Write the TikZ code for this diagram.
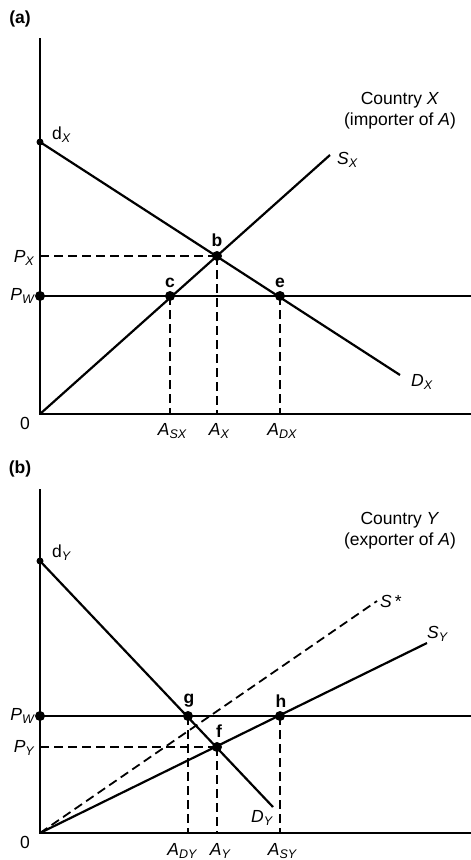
\documentclass[tikz,border=0pt]{standalone}
\usepackage{fontspec}
\setmainfont{Liberation Sans}
\usetikzlibrary{positioning}

\newcommand{\sublab}[2]{#1\raisebox{-0.35ex}{\fontsize{12.5}{12.5}\selectfont\itshape #2}}
\tikzset{
  curve/.style={line width=2.2pt},
  guide/.style={line width=1.8pt, dash pattern=on 9pt off 5pt},
  bigdot/.style={circle,fill=black,inner sep=0pt,minimum size=10pt},
  smalldot/.style={circle,fill=black,inner sep=0pt,minimum size=7pt},
  lab/.style={font=\fontsize{17.5}{21}\selectfont},
  ptlab/.style={font=\fontsize{17.5}{21}\selectfont\bfseries},
}

\begin{document}
\begin{tikzpicture}[x=1pt,y=-1pt]
\useasboundingbox[fill=white] (0,0) rectangle (471,860);

% panel (a): country X
\node[ptlab] (tagA) at (20,19) {(a)};
\coordinate (Oa) at (40,414);
\coordinate (topA) at (40,38);
\coordinate (endA) at (471,414);
\coordinate (dXpt) at (40,142);
\coordinate (DXend) at (400,375);
\coordinate (SXend) at (330,155);
\coordinate (PWa) at (40,296);
\coordinate (PWaend) at (471,296);
\coordinate (PXa) at (40,256);
\coordinate (b) at (217,256);
\coordinate (c) at (170,296);
\coordinate (e) at (280,296);
\coordinate (ASX) at (170,414);
\coordinate (AX) at (217,414);
\coordinate (ADX) at (280,414);

\draw[guide] (PXa) -- (b);
\draw[guide] (c) -- (ASX);
\draw[guide] (b) -- (AX);
\draw[guide] (e) -- (ADX);
\draw[curve] (topA) -- (Oa) -- (endA);
\draw[curve] (PWa) -- (PWaend);
\draw[curve] (dXpt) -- (DXend);
\draw[curve] (Oa) -- (SXend);
\node[smalldot] at (dXpt) {};
\node[bigdot] at (PWa) {};
\node[bigdot] at (b) {};
\node[bigdot] at (c) {};
\node[bigdot] at (e) {};

\node[ptlab] (blab) at (217,240) {b};
\node[ptlab] (clab) at (170,283) {c};
\node[ptlab] (elab) at (280,283) {e};
\node[lab] (zeroA) at (25,423) {0};
\node[lab,anchor=east,inner sep=1pt] (PXlab) at (35,258) {\sublab{\textit{P}}{X}};
\node[lab,anchor=east,inner sep=1pt] (PWlabA) at (35,296) {\sublab{\textit{P}}{W}};
\node[lab,anchor=west,inner sep=1pt] (dXlab) at (51,135) {\sublab{d}{X}};
\node[lab,anchor=west,inner sep=1pt] (SXlab) at (336,160) {\sublab{\textit{S}}{X}};
\node[lab,anchor=west,inner sep=1pt] (DXlab) at (410,382) {\sublab{\textit{D}}{X}};
\node[lab] (ASXlab) at (172,431) {\sublab{\textit{A}}{SX}};
\node[lab] (AXlab) at (219,431) {\sublab{\textit{A}}{X}};
\node[lab] (ADXlab) at (282,431) {\sublab{\textit{A}}{DX}};
\node[lab,align=center] (cX) at (400,111) {Country \textit{X}\\(importer of \textit{A})};

% panel (b): country Y
\node[ptlab] (tagB) at (20,469) {(b)};
\coordinate (Ob) at (40,833);
\coordinate (topB) at (40,489);
\coordinate (endB) at (471,833);
\coordinate (dYpt) at (40,561);
\coordinate (DYend) at (273,807);
\coordinate (SYend) at (427,643);
\coordinate (Sstarend) at (377,601);
\coordinate (PWb) at (40,716);
\coordinate (PWbend) at (471,716);
\coordinate (PYb) at (40,747);
\coordinate (g) at (188,716);
\coordinate (h) at (280,716);
\coordinate (f) at (217,747);
\coordinate (ADY) at (188,833);
\coordinate (AY) at (217,833);
\coordinate (ASY) at (280,833);

\draw[guide] (PYb) -- (f);
\draw[guide] (g) -- (ADY);
\draw[guide] (f) -- (AY);
\draw[guide] (h) -- (ASY);
\draw[guide] (Ob) -- (Sstarend);
\draw[curve] (topB) -- (Ob) -- (endB);
\draw[curve] (PWb) -- (PWbend);
\draw[curve] (dYpt) -- (DYend);
\draw[curve] (Ob) -- (SYend);
\node[smalldot] at (dYpt) {};
\node[bigdot] at (PWb) {};
\node[bigdot] at (g) {};
\node[bigdot] at (h) {};
\node[bigdot] at (f) {};

\node[ptlab] (glab) at (189,701) {g};
\node[ptlab] (hlab) at (281,701) {h};
\node[ptlab] (flab) at (219,731) {f};
\node[lab] (zeroB) at (25,842) {0};
\node[lab,anchor=east,inner sep=1pt] (PWlabB) at (35,716) {\sublab{\textit{P}}{W}};
\node[lab,anchor=east,inner sep=1pt] (PYlab) at (35,748) {\sublab{\textit{P}}{Y}};
\node[lab,anchor=west,inner sep=1pt] (dYlab) at (51,553) {\sublab{d}{Y}};
\node[lab,anchor=west,inner sep=1pt] (Sstarlab) at (379,601) {\textit{S}\,*};
\node[lab,anchor=west,inner sep=1pt] (SYlab) at (426,634) {\sublab{\textit{S}}{Y}};
\node[lab,anchor=west,inner sep=1pt] (DYlab) at (250,818) {\sublab{\textit{D}}{Y}};
\node[lab] (ADYlab) at (182,851) {\sublab{\textit{A}}{DY}};
\node[lab] (AYlab) at (220,851) {\sublab{\textit{A}}{Y}};
\node[lab] (ASYlab) at (282,851) {\sublab{\textit{A}}{SY}};
\node[lab,align=center] (cY) at (400,531) {Country \textit{Y}\\(exporter of \textit{A})};
\end{tikzpicture}
\end{document}
